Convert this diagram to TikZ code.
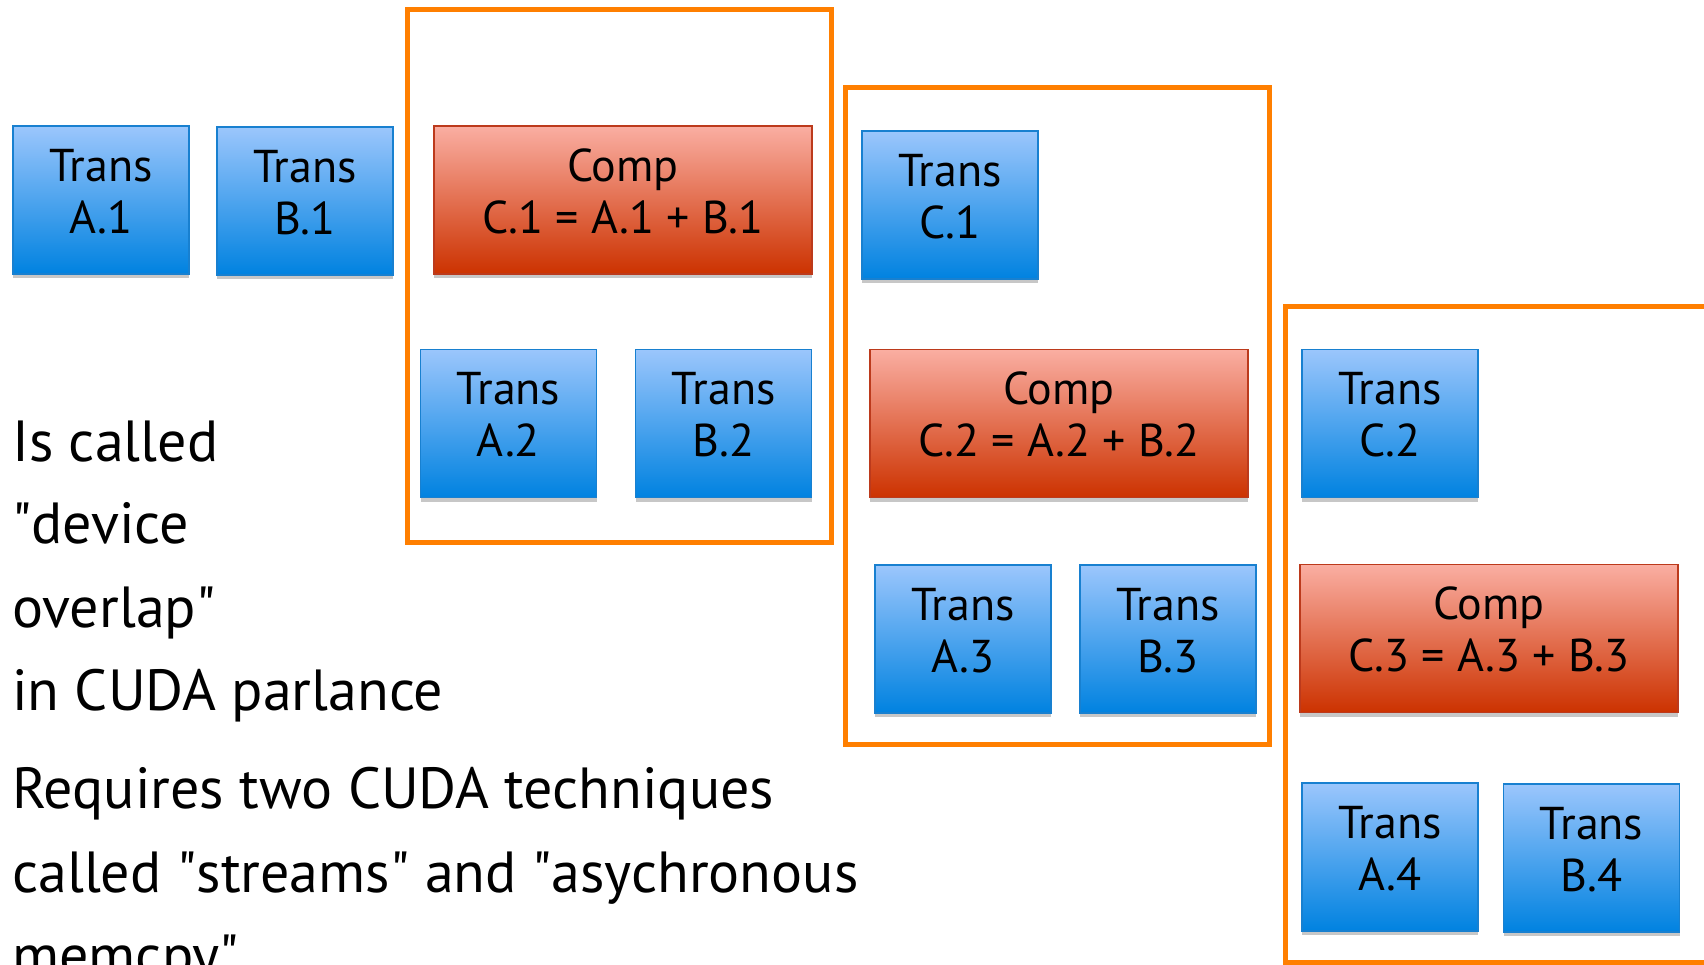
\documentclass[tikz,border=0pt]{standalone}
\usepackage{fontspec}
\setmainfont{PT Sans}
\usetikzlibrary{shadows}
\definecolor{borange}{RGB}{255,127,0}
\definecolor{ttop}{RGB}{155,198,252}
\definecolor{tbot}{RGB}{0,130,224}
\definecolor{tborder}{RGB}{24,128,208}
\definecolor{ctop}{RGB}{250,174,162}
\definecolor{cbot}{RGB}{204,50,0}
\definecolor{cborder}{RGB}{188,58,28}
\newcommand{\dn}{\rule[-18pt]{0pt}{18pt}}
\newcommand{\qq}{\textquotedbl}
\begin{document}
\begin{tikzpicture}[x=1pt,y=-1pt,
  box/.style={draw, line width=1.5pt, inner sep=0pt, align=center,
    font=\fontsize{46}{52}\selectfont,
    drop shadow={shadow xshift=0pt, shadow yshift=-4pt, opacity=0.22, fill=black}},
  tbox/.style={box, draw=tborder, top color=ttop, bottom color=tbot,
    minimum width=176pt, minimum height=148pt},
  cbox/.style={box, draw=cborder, top color=ctop, bottom color=cbot,
    minimum width=378pt, minimum height=148pt},
  frame/.style={draw=borange, line width=5pt},
  body/.style={anchor=base west, inner sep=0pt, font=\fontsize{58}{66}\selectfont}]
\useasboundingbox (0,0) rectangle (1704,965);
\fill[white] (0,0) rectangle (1704,965);

% orange frames
\draw[frame] (407.5,10) rectangle (831,542);
\draw[frame] (845.5,88) rectangle (1269,744);
\draw[frame] (1285.5,306.5) rectangle (1730,962);

% group 0
\node[tbox] (a1) at (101,200) {Trans\\A.1\dn};
\node[tbox] (b1) at (305,201) {Trans\\B.1\dn};
% group 1
\node[cbox] (c1) at (623,200) {Comp\\C.1 = A.1 + B.1\dn};
\node[tbox] (a2) at (508.5,423.5) {Trans\\A.2\dn};
\node[tbox] (b2) at (723.7,423.5) {Trans\\B.2\dn};
% group 2
\node[tbox] (tc1) at (950,205) {Trans\\C.1\dn};
\node[cbox] (c2) at (1059,423.5) {Comp\\C.2 = A.2 + B.2\dn};
\node[tbox] (a3) at (963,639) {Trans\\A.3\dn};
\node[tbox] (b3) at (1168,639) {Trans\\B.3\dn};
% group 3
\node[tbox] (tc2) at (1390,423.5) {Trans\\C.2\dn};
\node[cbox] (c3) at (1489,638.5) {Comp\\C.3 = A.3 + B.3\dn};
\node[tbox] (a4) at (1390,857) {Trans\\A.4\dn};
\node[tbox] (b4) at (1591.5,858) {Trans\\B.4\dn};

% text
\node[body] (l1) at (12,461) {Is called};
\node[body] (l2) at (12,543) {\qq device};
\node[body] (l3) at (12,627) {overlap\qq};
\node[body] (l4) at (12,710) {in CUDA parlance};
\node[body] (l5) at (12,808) {Requires two CUDA techniques};
\node[body] (l6) at (12,892) {called \qq streams\qq{} and \qq asychronous};
\node[body] (l7) at (12,975) {memcpy\qq};
\end{tikzpicture}
\end{document}
